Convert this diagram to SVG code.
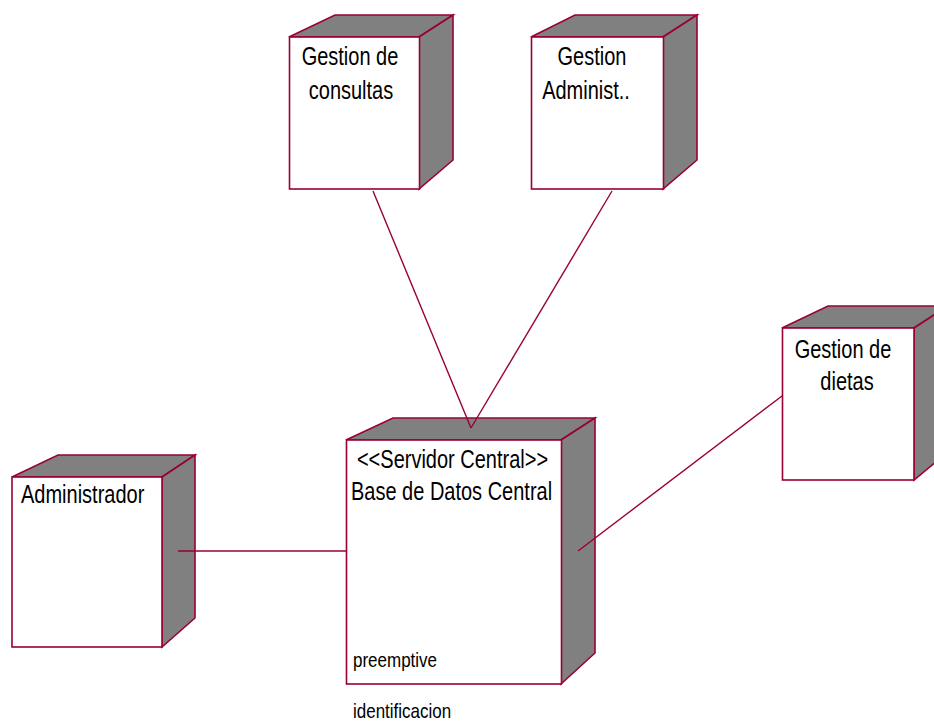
<svg xmlns="http://www.w3.org/2000/svg" width="934" height="722" viewBox="0 0 934 722">
<style>
.front{fill:#ffffff;stroke:#990033;stroke-width:1.6}
.side{fill:#808080;stroke:#990033;stroke-width:1.6;stroke-linejoin:miter}
.lbl{font-family:"Liberation Sans",Arial,sans-serif;font-size:20px;fill:#000}
.sm{font-family:"Liberation Sans",Arial,sans-serif;font-size:17px;fill:#000}
.conn{stroke:#990033;stroke-width:1.4;fill:none}
</style>
<rect width="934" height="722" fill="#ffffff"/>
<g id="node-gestion-consultas">
<polygon class="side" points="289,37 335,15 453,15 419,37"/>
<polygon class="side" points="419,37 453,15 453,160 419,189"/>
<rect class="front" x="289.5" y="37" width="130" height="152"/>
<text class="lbl" text-anchor="middle" transform="translate(350 65) scale(1 1.25)">Gestion de</text>
<text class="lbl" text-anchor="middle" transform="translate(351 99) scale(1 1.25)">consultas</text>
</g>
<g id="node-gestion-administ">
<polygon class="side" points="531,37 575,15 697,15 663,37"/>
<polygon class="side" points="663,37 697,15 697,160 663,189"/>
<rect class="front" x="531.5" y="37" width="132" height="152"/>
<text class="lbl" text-anchor="middle" transform="translate(592 65) scale(1 1.25)">Gestion</text>
<text class="lbl" text-anchor="middle" transform="translate(586 99) scale(1 1.25)">Administ..</text>
</g>
<g id="node-servidor-central">
<polygon class="side" points="346,440 393,418 595,418 561,440"/>
<polygon class="side" points="561,440 595,418 595,653 561,684"/>
<rect class="front" x="346.5" y="440" width="215" height="244"/>
<text class="lbl" text-anchor="middle" transform="translate(452.5 468) scale(1 1.25)">&lt;&lt;Servidor Central&gt;&gt;</text>
<text class="lbl" text-anchor="start" transform="translate(351 500) scale(1 1.25)">Base de Datos Central</text>
<text class="sm" transform="translate(353 667) scale(1 1.2)">preemptive</text>
<text class="sm" transform="translate(353 718) scale(1 1.2)">identificacion</text>
</g>
<g id="node-administrador">
<polygon class="side" points="12,477 58,455 195,455 162,477"/>
<polygon class="side" points="162,477 195,455 195,618 162,647"/>
<rect class="front" x="12" y="477" width="150" height="170"/>
<text class="lbl" transform="translate(21 503) scale(1 1.25)">Administrador</text>
</g>
<g id="node-gestion-dietas">
<polygon class="side" points="782,328 828,306 948,306 914,328"/>
<polygon class="side" points="914,328 948,306 948,452 914,480"/>
<rect class="front" x="782.5" y="328" width="131.5" height="152"/>
<text class="lbl" text-anchor="middle" transform="translate(843 358) scale(1 1.25)">Gestion de</text>
<text class="lbl" text-anchor="middle" transform="translate(847 390) scale(1 1.25)">dietas</text>
</g>
<g id="connectors">
<line class="conn" x1="373" y1="191" x2="471" y2="428"/>
<line class="conn" x1="612" y1="191" x2="471" y2="428"/>
<line class="conn" x1="178" y1="551" x2="346" y2="551"/>
<line class="conn" x1="782" y1="396" x2="578" y2="551"/>
</g>
</svg>
